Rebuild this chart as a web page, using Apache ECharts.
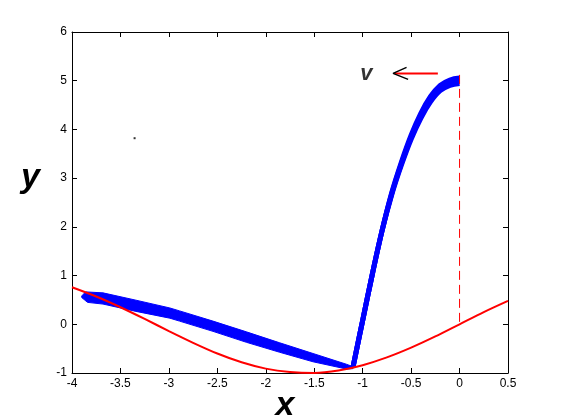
<!DOCTYPE html>
<html>
<head>
<meta charset="utf-8">
<script src="https://cdn.jsdelivr.net/npm/echarts@6/dist/echarts.min.js"></script>
<style>
  html, body { margin: 0; padding: 0; background: #fff; }
  #chart { width: 561px; height: 420px; }
</style>
</head>
<body>
<div id="chart"></div>
<script>
  // axis ticks
  var xTicks = [-4, -3.5, -3, -2.5, -2, -1.5, -1, -0.5, 0, 0.5];
  var yTicks = [-1, 0, 1, 2, 3, 4, 5, 6];

  // red curve
  var curveX = [-4, -3.75, -3.5, -3.25, -3, -2.75, -2.5, -2.25, -2, -1.75,
                -1.5, -1.25, -1, -0.75, -0.5, -0.25, 0, 0.25, 0.5];
  var curveY = [0.76, 0.57, 0.35, 0.11, -0.14, -0.38, -0.6, -0.78, -0.91, -0.98,
                -1.0, -0.95, -0.84, -0.68, -0.48, -0.25, 0, 0.25, 0.48];

  // blue band, slow drift part (upper / lower edge)
  var slowUpper = [[-3.9, 0.58], [-3.86, 0.665], [-3.68, 0.645], [-3.34, 0.495], [-2.99, 0.335],
                   [-2.89, 0.275], [-2.545, 0.065], [-2.2, -0.155], [-1.856, -0.38],
                   [-1.512, -0.6], [-1.168, -0.82], [-1.1, -0.87]];
  var slowLower = [[-3.9, 0.55], [-3.84, 0.45], [-3.68, 0.415], [-3.34, 0.265], [-2.99, 0.125],
                   [-2.89, 0.065], [-2.545, -0.145], [-2.2, -0.37], [-1.856, -0.575],
                   [-1.512, -0.77], [-1.168, -0.918], [-1.1, -0.91]];

  // blue band, fast rise (upper / middle / lower trajectory)
  var riseUpper = [[-1.1, -0.88], [-1.0, 0.08], [-0.9, 1.03], [-0.8, 1.92], [-0.7, 2.70], [-0.6, 3.33],
                   [-0.5, 3.88], [-0.4, 4.33], [-0.3, 4.675], [-0.2, 4.905], [-0.1, 5.015], [0, 5.055]];
  var riseMid = [[-1.1, -0.88], [-1.0, 0.08], [-0.9, 1.03], [-0.8, 1.92], [-0.7, 2.68], [-0.6, 3.30],
                 [-0.5, 3.84], [-0.4, 4.28], [-0.3, 4.62], [-0.2, 4.85], [-0.1, 4.96], [0, 5.0]];
  var riseLower = [[-1.1, -0.88], [-1.0, 0.08], [-0.9, 1.03], [-0.8, 1.92], [-0.7, 2.66], [-0.6, 3.27],
                   [-0.5, 3.80], [-0.4, 4.23], [-0.3, 4.565], [-0.2, 4.795], [-0.1, 4.905], [0, 4.945]];

  // dashed drop line, arrow and its label
  var dropLine = [[0, 5.12], [0, 0.05]];
  var arrowShaft = [[-0.224, 5.147], [-0.668, 5.147]];
  var arrowHead = [[-0.547, 5.275], [-0.686, 5.151], [-0.531, 5.028]];
  var labelV = [[-0.963, 5.14]];
  var strayDot = [[-3.354, 3.82]];

  var slowBand = slowUpper.concat(slowLower.slice().reverse());

  var chart = echarts.init(document.getElementById('chart'));

  var tickFont = { fontFamily: 'Liberation Sans', fontSize: 12, color: '#000' };
  var nameFont = 'italic bold 34px "Liberation Sans"';
  var axisLine = { onZero: false, lineStyle: { color: '#000', width: 1 } };
  var axisTick = { inside: true, length: 5, lineStyle: { color: '#000' } };

  function riseLine(data) {
    return {
      type: 'line',
      data: data,
      smooth: 0.4,
      showSymbol: false,
      z: 2,
      lineStyle: { color: '#0000ff', width: 5 }
    };
  }

  var option = {
    animation: false,
    backgroundColor: '#fff',
    grid: { left: 72, right: 53, top: 32, bottom: 47, outerBoundsMode: 'none' },
    graphic: [
      { type: 'text', x: 285, y: 389, style: { text: 'x', font: nameFont, fill: '#000', align: 'center', verticalAlign: 'top' } },
      { type: 'text', x: 40, y: 161, style: { text: 'y', font: nameFont, fill: '#000', align: 'right', verticalAlign: 'top' } }
    ],
    xAxis: [
      {
        type: 'value', min: xTicks[0], max: xTicks[xTicks.length - 1], interval: 0.5,
        axisLine: axisLine, axisTick: axisTick,
        axisLabel: Object.assign({ margin: 5 }, tickFont), splitLine: { show: false }
      },
      {
        type: 'value', position: 'top', min: xTicks[0], max: xTicks[xTicks.length - 1], interval: 0.5,
        axisLine: axisLine, axisTick: axisTick,
        axisLabel: { show: false }, splitLine: { show: false }
      }
    ],
    yAxis: [
      {
        type: 'value', min: yTicks[0], max: yTicks[yTicks.length - 1], interval: 1,
        axisLine: axisLine, axisTick: axisTick,
        axisLabel: Object.assign({ margin: 5 }, tickFont), splitLine: { show: false }
      },
      {
        type: 'value', position: 'right', min: yTicks[0], max: yTicks[yTicks.length - 1], interval: 1,
        axisLine: axisLine, axisTick: axisTick,
        axisLabel: { show: false }, splitLine: { show: false }
      }
    ],
    series: [
      {
        type: 'custom',
        data: [0],
        z: 2,
        renderItem: function (params, api) {
          var pts = slowBand.map(function (p) { return api.coord(p); });
          return {
            type: 'polygon',
            shape: { points: pts },
            style: { fill: '#0000ff', stroke: '#0000ff', lineWidth: 1 }
          };
        }
      },
      riseLine(riseUpper),
      riseLine(riseMid),
      riseLine(riseLower),
      {
        type: 'line',
        data: curveX.map(function (x, i) { return [x, curveY[i]]; }),
        smooth: 0.3,
        showSymbol: false,
        z: 3,
        lineStyle: { color: '#ff0000', width: 2 }
      },
      {
        type: 'line',
        data: dropLine,
        showSymbol: false,
        z: 4,
        lineStyle: { color: '#ff0000', width: 1, type: [9, 5] }
      },
      {
        type: 'line',
        data: arrowShaft,
        showSymbol: false,
        z: 4,
        lineStyle: { color: '#ff0000', width: 2 }
      },
      {
        type: 'line',
        data: arrowHead,
        showSymbol: false,
        z: 5,
        lineStyle: { color: '#000', width: 1.5 }
      },
      {
        type: 'scatter',
        data: labelV,
        symbolSize: 0,
        label: {
          show: true, position: 'inside', formatter: 'v', color: '#000',
          fontFamily: 'Liberation Sans', fontSize: 22, fontWeight: 'bold', fontStyle: 'italic'
        }
      },
      {
        type: 'scatter',
        data: strayDot,
        symbol: 'rect',
        symbolSize: 2,
        itemStyle: { color: '#000' }
      }
    ]
  };

  chart.setOption(option);
</script>
</body>
</html>
